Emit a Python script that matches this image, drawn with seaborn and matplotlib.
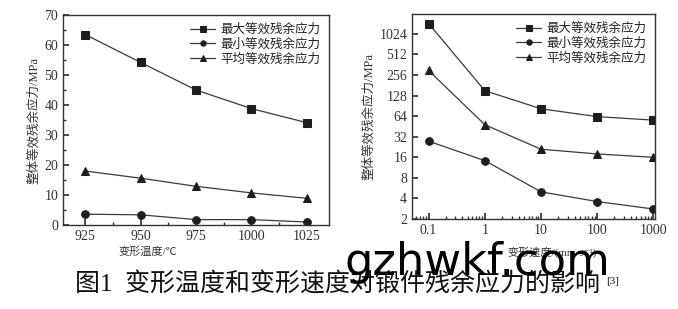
import matplotlib
matplotlib.use("Agg")
import matplotlib.pyplot as plt
import matplotlib.ticker as mticker
import seaborn as sns
import pandas as pd

sns.set_theme(style="white")
plt.rcParams['font.family'] = ['Liberation Serif', 'Noto Sans CJK SC', 'DejaVu Sans']
plt.rcParams['axes.unicode_minus'] = False

series_names = ["最大等效残余应力", "最小等效残余应力", "平均等效残余应力"]
markers = ["s", "o", "^"]

temps = [925, 950, 975, 1000, 1025]
temp_max = [63.5, 54.2, 45.0, 38.8, 34.1]
temp_min = [3.6, 3.4, 1.8, 1.8, 1.0]
temp_avg = [18.0, 15.6, 12.9, 10.7, 8.9]

speeds = [0.1, 1, 10, 100, 1000]
speed_max = [1450, 151, 82, 63, 56]
speed_min = [27.5, 14.3, 5.0, 3.6, 2.8]
speed_avg = [298, 48, 21, 17.9, 16]

y_ticks_right = [2, 4, 8, 16, 32, 64, 128, 256, 512, 1024]
x_ticks_right = [0.1, 1, 10, 100, 1000]
x_ticklabels_right = ["0.1", "1", "10", "100", "1000"]

fig = plt.figure(figsize=(6.78, 3.09), dpi=100)
ax1 = fig.add_axes([63/678, 1-225/309, 266/678, 210/309])
ax2 = fig.add_axes([412/678, 1-219/309, 243/678, 205/309])

line_c = "#3a3a3a"
mk_c = "#1e1e1e"

def draw(ax, x, ys):
    for name, m, y in zip(series_names, markers, ys):
        df = pd.DataFrame({"x": x, "y": y})
        sns.lineplot(data=df, x="x", y="y", ax=ax, color=line_c, lw=0.9,
                     marker=m, markersize=5.5 if m != "^" else 6,
                     markerfacecolor=mk_c, markeredgecolor=mk_c,
                     label=name)

draw(ax1, temps, [temp_max, temp_min, temp_avg])
draw(ax2, speeds, [speed_max, speed_min, speed_avg])

tick_fs = 10
for ax in (ax1, ax2):
    for s in ax.spines.values():
        s.set_color("#333333")
        s.set_linewidth(1.0)
    ax.tick_params(which="both", direction="in", top=False, right=False,
                   left=True, bottom=True, colors="#333333", labelsize=tick_fs)
    ax.tick_params(which="major", length=4)
    ax.tick_params(which="minor", length=2.5)
    ax.set_xlabel("")
    ax.set_ylabel("整体等效残余应力/MPa", fontsize=9, color="#333333", labelpad=3)
    leg = ax.legend(frameon=False, fontsize=9, loc="upper right",
                    handlelength=2.0, handletextpad=0.4, labelspacing=0.2,
                    borderaxespad=0.3, markerscale=0.7)
    for t in leg.get_texts():
        t.set_color("#222222")

ax1.set_xlim(915, 1035)
ax1.set_ylim(0, 70)
ax1.xaxis.set_major_locator(mticker.MultipleLocator(25))
ax1.xaxis.set_minor_locator(mticker.MultipleLocator(12.5))
ax1.yaxis.set_major_locator(mticker.MultipleLocator(10))
ax1.yaxis.set_minor_locator(mticker.MultipleLocator(5))

ax2.set_xscale("log")
ax2.set_yscale("log", base=2)
ax2.set_xlim(0.0506, 1070)
ax2.set_ylim(2, 2000)
ax2.set_xticks(x_ticks_right)
ax2.set_xticklabels(x_ticklabels_right)
ax2.xaxis.set_minor_locator(mticker.LogLocator(base=10, subs=range(2, 10)))
ax2.xaxis.set_minor_formatter(mticker.NullFormatter())
ax2.set_yticks(y_ticks_right)
ax2.set_yticklabels([str(v) for v in y_ticks_right])
ax2.yaxis.set_minor_locator(mticker.NullLocator())

fig.text(148/678, 1-252/309, "变形温度/℃", fontsize=8, ha="center", va="center", color="#333333")
fig.text(552/678, 1-252/309, "变形速度/(mm·s⁻¹)", fontsize=8, ha="center", va="center", color="#333333")

fig.text(75/678, 1-285/309, "图1  变形温度和变形速度对锻件残余应力的影响", fontsize=18,
         ha="left", va="center", color="#111111")
fig.text(606/678, 1-281/309, "[3]", fontsize=8, ha="left", va="center", color="#111111")

fig.text(477/678, 1-275/309, "gzhwkf.com", fontsize=32.3, ha="center", va="baseline",
         color="black", family=["DejaVu Sans"], zorder=10)

fig.savefig("out.png", dpi=100, facecolor="white")
